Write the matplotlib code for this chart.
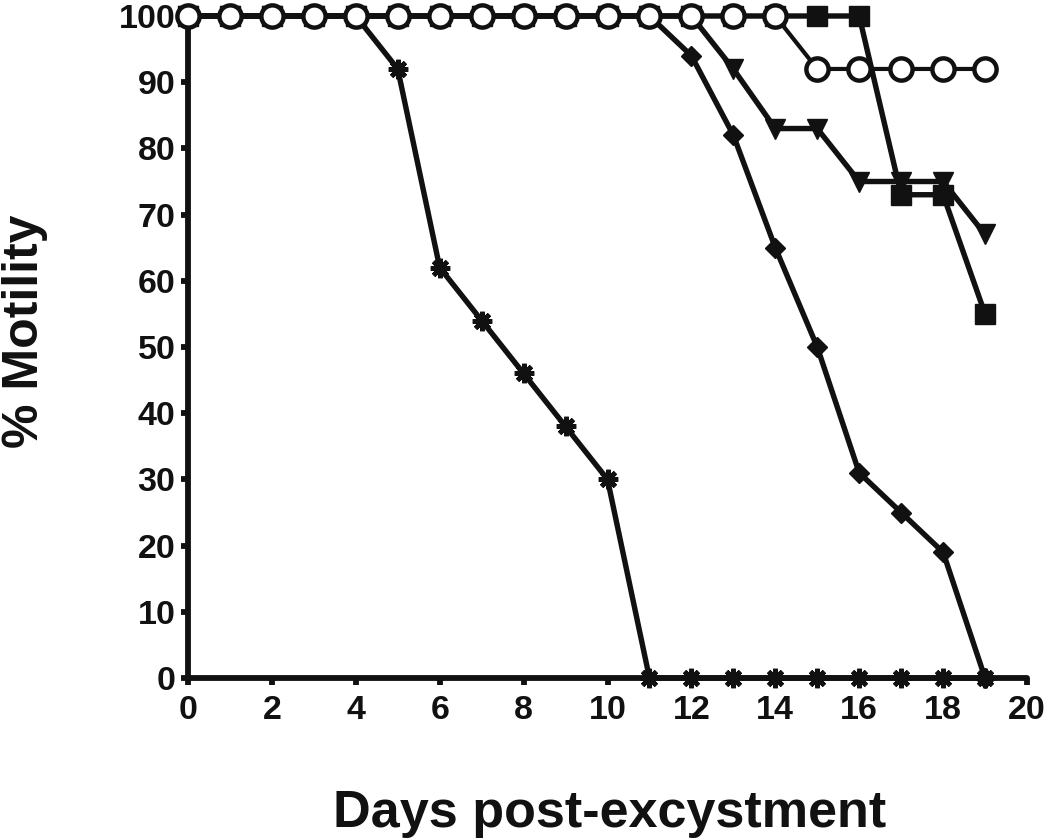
import numpy as np
import matplotlib.pyplot as plt

plt.rcParams['font.family'] = ['Liberation Sans', 'DejaVu Sans']
plt.rcParams['font.weight'] = 'bold'

days = list(range(0, 20))

# % motility per group
star = [100, 100, 100, 100, 100, 92, 62, 54, 46, 38, 30, 0, 0, 0, 0, 0, 0, 0, 0, 0]
diamond = [100, 100, 100, 100, 100, 100, 100, 100, 100, 100, 100, 100, 94, 82, 65, 50, 31, 25, 19, 0]
triangle = [100, 100, 100, 100, 100, 100, 100, 100, 100, 100, 100, 100, 100, 92, 83, 83, 75, 75, 75, 67]
square = [100, 100, 100, 100, 100, 100, 100, 100, 100, 100, 100, 100, 100, 100, 100, 100, 100, 73, 73, 55]
circle = [100, 100, 100, 100, 100, 100, 100, 100, 100, 100, 100, 100, 100, 100, 100, 92, 92, 92, 92, 92]

x_ticks = [0, 2, 4, 6, 8, 10, 12, 14, 16, 18, 20]
y_ticks = [0, 10, 20, 30, 40, 50, 60, 70, 80, 90, 100]

fig = plt.figure(figsize=(10.5, 8.39), dpi=100)
ax = fig.add_axes([188 / 1050, 161 / 839, 839 / 1050, 662 / 839])

ink = '#111111'
lw = 3.9
# asterisk with 8 arms
ax.plot(days, star, color=ink, lw=lw, marker=(8, 2, 0), ms=14, mew=3.4, clip_on=False, zorder=3)
ax.plot(days, diamond, color=ink, lw=lw, marker='D', ms=10.5, clip_on=False, zorder=3)
ax.plot(days, triangle, color=ink, lw=lw, marker='v', ms=15, clip_on=False, zorder=3)
ax.plot(days, square, color=ink, lw=lw, marker='s', ms=15, clip_on=False, zorder=4)
ax.plot(days, circle, color=ink, lw=3.0, marker='o', ms=16, mfc='white', mew=3.2,
        clip_on=False, zorder=5)

ax.set_xlim(0, 20)
ax.set_ylim(0, 100)
ax.set_xticks(x_ticks)
ax.set_yticks(y_ticks)
for s in ['top', 'right']:
    ax.spines[s].set_visible(False)
for s in ['left', 'bottom']:
    ax.spines[s].set_linewidth(4.2)
    ax.spines[s].set_color(ink)
    ax.spines[s].set_capstyle('round')
ax.tick_params(width=4.2, length=5, labelsize=24.5, color=ink, labelcolor=ink)
ax.tick_params(axis='x', pad=7)
ax.tick_params(axis='y', pad=4)
for lab in ax.get_xticklabels() + ax.get_yticklabels():
    lab.set_fontweight('bold')

fig.text(610 / 1050, 1 - 827 / 839, 'Days post-excystment', fontsize=37.5, fontweight='bold',
         ha='center', va='baseline', color=ink)
fig.text(2 / 1050, 1 - 331 / 839, '% Motility', fontsize=36, fontweight='bold',
         rotation=90, ha='left', va='center', color=ink)

fig.savefig('out.png', dpi=100)
